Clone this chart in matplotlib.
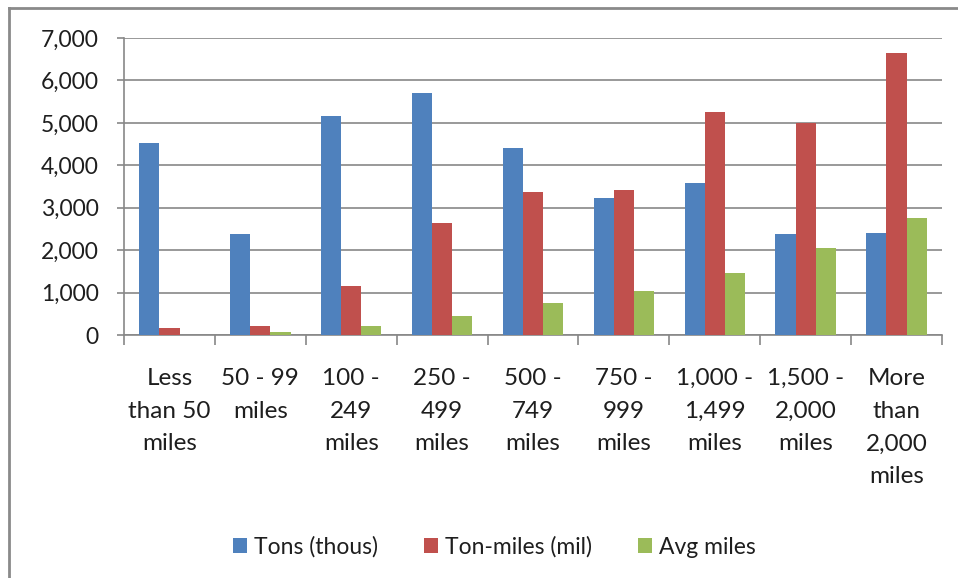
import matplotlib
matplotlib.use("Agg")
import matplotlib.pyplot as plt
from matplotlib.patches import Patch
from matplotlib.lines import Line2D
import numpy as np

categories = ["Less\nthan 50\nmiles", "50 - 99\nmiles", "100 -\n249\nmiles",
              "250 -\n499\nmiles", "500 -\n749\nmiles", "750 -\n999\nmiles",
              "1,000 -\n1,499\nmiles", "1,500 -\n2,000\nmiles",
              "More\nthan\n2,000\nmiles"]
tons_thous = [4530, 2390, 5170, 5710, 4415, 3230, 3590, 2390, 2410]
ton_miles_mil = [160, 210, 1155, 2630, 3380, 3410, 5250, 4990, 6645]
avg_miles = [10, 80, 205, 455, 755, 1030, 1455, 2050, 2750]
series_names = ["Tons (thous)", "Ton-miles (mil)", "Avg miles"]
y_ticks = [0, 1000, 2000, 3000, 4000, 5000, 6000, 7000]

colors = ["#4F81BD", "#C0504D", "#9BBB59"]
text_color = "#1e1e1e"
grid_color = "#878787"
font = ["Lato", "DejaVu Sans"]
fs = 16.5

plt.rcParams['font.family'] = font

fig = plt.figure(figsize=(9.58, 5.78), dpi=100)
ax = fig.add_axes([124/958, 1-335/578, (942-124)/958, (335-38)/578])

x = np.arange(len(categories))
w = 0.222
for i, (vals, c) in enumerate(zip([tons_thous, ton_miles_mil, avg_miles], colors)):
    ax.bar(x + (i-1)*w, vals, width=w, color=c, edgecolor="none", zorder=3)

ax.set_xlim(-0.5, len(categories)-0.5)
ax.set_ylim(0, 7000)
ax.set_yticks(y_ticks)
ax.set_yticklabels([f"{v:,}" for v in y_ticks], fontsize=fs, color=text_color)
ax.yaxis.grid(True, color=grid_color, linewidth=1.2, zorder=0)
ax.set_axisbelow(True)

ax.set_xticks(np.arange(len(categories)+1) - 0.5)
ax.set_xticklabels([])
ax.set_xticks(x, minor=True)
ax.set_xticklabels(categories, minor=True, fontsize=17.5, color=text_color,
                   linespacing=1.68, va="top")
ax.tick_params(axis="x", which="major", length=7, width=1.2, color=grid_color, direction="out")
ax.tick_params(axis="x", which="minor", length=0, pad=24)
ax.tick_params(axis="y", length=5, width=1.2, color=grid_color, pad=13)

for s in ["top", "right"]:
    ax.spines[s].set_visible(False)
for s in ["left", "bottom"]:
    ax.spines[s].set_color(grid_color)
    ax.spines[s].set_linewidth(1.2)

handles = [Patch(facecolor=c, edgecolor="none") for c in colors]
leg = fig.legend(handles, series_names, loc="center", ncol=3,
                 bbox_to_anchor=(494/958, 1-547/578), frameon=False,
                 fontsize=fs, handlelength=0.62, handleheight=0.62,
                 handletextpad=0.3, columnspacing=2.0)
for t in leg.get_texts():
    t.set_color(text_color)

# outer chart frame (top and left visible)
fig.add_artist(Line2D([9/958, 1.0], [1-8/578, 1-8/578], transform=fig.transFigure,
                      color="#8a8a8a", linewidth=2))
fig.add_artist(Line2D([9/958, 9/958], [0, 1-8/578], transform=fig.transFigure,
                      color="#8a8a8a", linewidth=2))

fig.savefig("out.png", dpi=100)
